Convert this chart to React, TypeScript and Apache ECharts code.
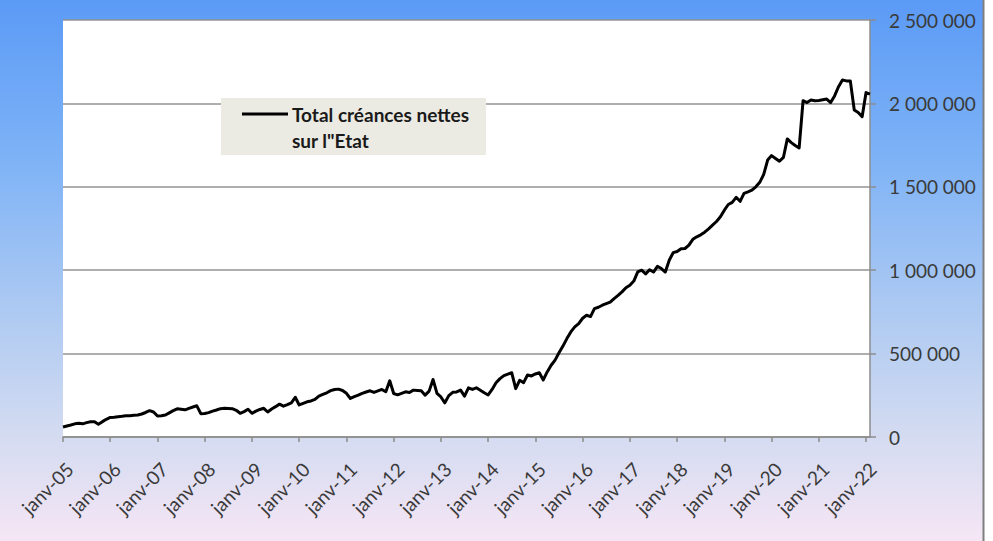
import React, { useEffect, useRef } from "react";
import * as echarts from "echarts";

// Month abbreviations (French Excel style) and years shown on the axis
const monthNames = ["janv", "févr", "mars", "avr", "mai", "juin", "juil", "août", "sept", "oct", "nov", "déc"];
const yearLabels = ["05", "06", "07", "08", "09", "10", "11", "12", "13", "14", "15", "16", "17", "18", "19", "20", "21", "22"];

// Total créances nettes sur l'Etat, in thousands, monthly values
const y2005 = [60, 66, 72, 79, 82, 79, 86, 91, 92, 77, 92, 106];
const y2006 = [117, 119, 122, 124, 127, 128, 130, 132, 138, 147, 158, 150];
const y2007 = [126, 128, 132, 145, 158, 169, 166, 163, 172, 180, 187, 140];
const y2008 = [141, 146, 155, 162, 170, 172, 171, 170, 160, 142, 152, 166];
const y2009 = [142, 155, 165, 172, 150, 168, 182, 197, 185, 194, 205, 238];
const y2010 = [192, 202, 211, 216, 225, 245, 255, 265, 278, 285, 287, 279];
const y2011 = [262, 231, 242, 251, 262, 270, 277, 267, 276, 285, 271, 337];
const y2012 = [261, 253, 262, 271, 267, 281, 279, 277, 251, 275, 345, 261];
const y2013 = [240, 205, 248, 268, 270, 281, 245, 295, 285, 295, 280, 265];
const y2014 = [252, 285, 325, 350, 368, 377, 385, 290, 340, 326, 372, 366];
const y2015 = [378, 385, 342, 390, 430, 461, 505, 545, 590, 630, 660, 680];
const y2016 = [712, 730, 722, 770, 778, 790, 800, 809, 830, 849, 870, 895];
const y2017 = [910, 935, 990, 1000, 978, 1003, 989, 1023, 1010, 989, 1060, 1105];
const y2018 = [1112, 1129, 1130, 1150, 1185, 1200, 1212, 1228, 1248, 1270, 1292, 1320];
const y2019 = [1360, 1394, 1407, 1437, 1413, 1461, 1470, 1480, 1500, 1527, 1575, 1660];
const y2020 = [1687, 1670, 1653, 1676, 1787, 1765, 1748, 1733, 2016, 2005, 2020, 2016];
const y2021 = [2018, 2022, 2026, 2005, 2045, 2100, 2140, 2135, 2135, 1960, 1945, 1920];
const y2022 = [2065, 2056];

const seriesName = 'Total créances nettes sur l"Etat';
const legendLine1 = "Total créances nettes";
const legendLine2 = 'sur l"Etat';

const yMax = 2500;
const yStep = 500;

export default function App() {
  const ref = useRef<HTMLDivElement>(null);

  useEffect(() => {
    if (!ref.current) return;
    const chart = echarts.init(ref.current, null, { renderer: "svg" });

    const values = [
      ...y2005, ...y2006, ...y2007, ...y2008, ...y2009, ...y2010, ...y2011, ...y2012, ...y2013,
      ...y2014, ...y2015, ...y2016, ...y2017, ...y2018, ...y2019, ...y2020, ...y2021, ...y2022,
    ];
    const categories: string[] = [];
    for (const yl of yearLabels) {
      for (const m of monthNames) {
        if (categories.length < values.length) categories.push(`${m}-${yl}`);
      }
    }

    const fmt = (v: number) => {
      if (v === 0) return "0";
      return String(Math.round(v * 1000)).replace(/\B(?=(\d{3})+(?!\d))/g, " ");
    };

    const font = "Lato, 'Open Sans', sans-serif";

    chart.setOption({
      animation: false,
      backgroundColor: {
        type: "linear",
        x: 0,
        y: 0,
        x2: 0,
        y2: 1,
        colorStops: [
          { offset: 0, color: "#5B9AF6" },
          { offset: 0.3, color: "#7FB3F6" },
          { offset: 0.58, color: "#AECAF2" },
          { offset: 0.8, color: "#D3DBF1" },
          { offset: 1, color: "#F5E6F5" },
        ],
      },
      grid: {
        left: 63,
        right: 123,
        top: 20,
        bottom: 104,
        show: true,
        backgroundColor: "#FFFFFF",
        borderWidth: 0,
      },
      xAxis: {
        type: "category",
        data: categories,
        boundaryGap: false,
        axisLine: { show: true, lineStyle: { color: "#8C8C8C", width: 1.5 } },
        axisTick: { show: true, interval: 11, length: 5, lineStyle: { color: "#8C8C8C", width: 1.5 } },
        axisLabel: {
          interval: 11,
          rotate: 45,
          margin: 22,
          verticalAlign: "top",
          color: "#3A3A3A",
          fontFamily: font,
          fontSize: 19,
        },
        splitLine: { show: false },
      },
      yAxis: {
        type: "value",
        position: "right",
        min: 0,
        max: yMax,
        interval: yStep,
        axisLine: { show: true, lineStyle: { color: "#8C8C8C", width: 1.5 } },
        axisTick: { show: true, length: 6, lineStyle: { color: "#8C8C8C", width: 1.5 } },
        axisLabel: {
          margin: 19,
          color: "#3A3A3A",
          fontFamily: font,
          fontSize: 19,
          formatter: fmt,
        },
        splitLine: { show: true, lineStyle: { color: "#939393", width: 1.5 } },
      },
      series: [
        {
          name: seriesName,
          type: "line",
          data: values,
          showSymbol: false,
          symbol: "none",
          lineStyle: { color: "#000000", width: 3, join: "round" },
          z: 3,
        },
      ],
      graphic: [
        {
          type: "rect",
          right: 0,
          top: 0,
          shape: { width: 10, height: 541 },
          style: { fill: "#FFFFFF" },
          z: 1,
        },
        {
          type: "line",
          shape: { x1: 983.5, y1: 0, x2: 983.5, y2: 541 },
          style: { stroke: "#7F7F7F", lineWidth: 2 },
          z: 1,
        },
        {
          type: "rect",
          shape: { x: 221, y: 98, width: 265, height: 57 },
          style: { fill: "#ECEBE3" },
          z: 10,
        },
        {
          type: "line",
          shape: { x1: 242, y1: 114, x2: 288, y2: 114 },
          style: { stroke: "#000000", lineWidth: 3 },
          z: 11,
        },
        {
          type: "text",
          x: 292,
          y: 114,
          style: {
            text: legendLine1,
            font: `bold 19px ${font}`,
            fill: "#1A1A1A",
            verticalAlign: "middle",
          },
          z: 11,
        },
        {
          type: "text",
          x: 292,
          y: 140,
          style: {
            text: legendLine2,
            font: `bold 19px ${font}`,
            fill: "#1A1A1A",
            verticalAlign: "middle",
          },
          z: 11,
        },
      ],
    });

    return () => chart.dispose();
  }, []);

  return (
    <div
      ref={ref}
      style={{ position: "fixed", left: 0, top: 0, width: 993, height: 541 }}
    />
  );
}
